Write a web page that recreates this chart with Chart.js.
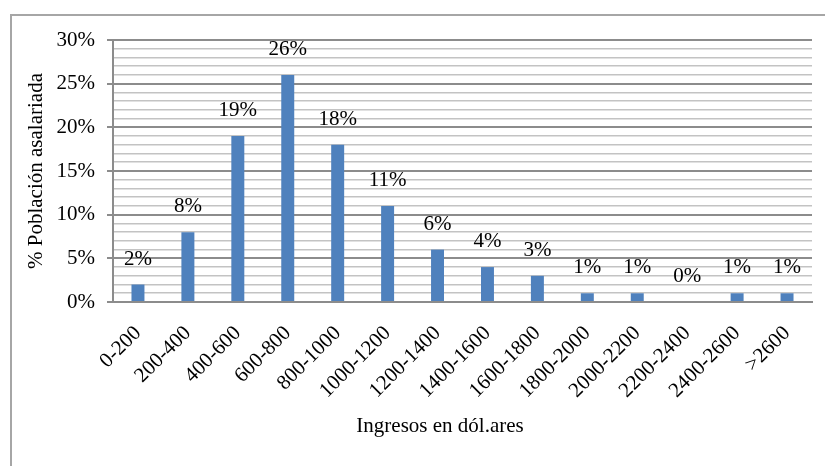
<!DOCTYPE html>
<html>
<head>
<meta charset="utf-8">
<script src="https://cdn.jsdelivr.net/npm/chart.js@4.4.1/dist/chart.umd.min.js"></script>
<style>
  html, body { margin: 0; padding: 0; background: #ffffff; }
  #wrap { position: relative; width: 825px; height: 466px; }
  canvas { display: block; }
</style>
</head>
<body>
<div id="wrap"><canvas id="c" width="825" height="466"></canvas></div>
<script>
// Income brackets (US dollars) and share of salaried population in each
const categories = ['0-200', '200-400', '400-600', '600-800', '800-1000', '1000-1200',
  '1200-1400', '1400-1600', '1600-1800', '1800-2000', '2000-2200', '2200-2400',
  '2400-2600', '>2600'];
const shares = [2, 8, 19, 26, 18, 11, 6, 4, 3, 1, 1, 0, 1, 1];
const yTickValues = [0, 5, 10, 15, 20, 25, 30];
const xTitle = 'Ingresos en dól.ares';
const yTitle = '% Población asalariada';

const SERIF = '"Liberation Serif", "Times New Roman", serif';
const FONT_SIZE = 21;

// Frame, axis titles and value labels drawn on the canvas
const decor = {
  id: 'decor',
  beforeDraw(chart) {
    const ctx = chart.ctx;
    ctx.save();
    ctx.fillStyle = '#ffffff';
    ctx.fillRect(0, 0, chart.width, chart.height);
    ctx.strokeStyle = '#a6a6a6';
    ctx.lineWidth = 2;
    ctx.beginPath();
    ctx.moveTo(11, chart.height + 5);
    ctx.lineTo(11, 15);
    ctx.lineTo(chart.width + 5, 15);
    ctx.stroke();
    ctx.restore();
  },
  afterDraw(chart) {
    const ctx = chart.ctx;
    const area = chart.chartArea;
    ctx.save();
    ctx.fillStyle = '#000000';
    ctx.font = FONT_SIZE + 'px ' + SERIF;
    ctx.textAlign = 'center';
    ctx.textBaseline = 'alphabetic';
    ctx.fillText(xTitle, 440, 432);
    ctx.save();
    ctx.translate(42, (area.top + area.bottom) / 2);
    ctx.rotate(-Math.PI / 2);
    ctx.fillText(yTitle, 0, 0);
    ctx.restore();
    const meta = chart.getDatasetMeta(0);
    meta.data.forEach((bar, i) => {
      ctx.fillText(shares[i] + '%', bar.x, bar.y - 20);
    });
    ctx.restore();
  }
};

new Chart(document.getElementById('c'), {
  type: 'bar',
  data: {
    labels: categories,
    datasets: [{
      data: shares,
      backgroundColor: '#4f81bd',
      borderWidth: 0,
      categoryPercentage: 1,
      barPercentage: 0.26
    }]
  },
  options: {
    responsive: false,
    animation: false,
    layout: { padding: { top: 40, right: 13, left: 0, bottom: 0 } },
    plugins: { legend: { display: false }, tooltip: { enabled: false } },
    scales: {
      x: {
        afterFit(scale) { scale.height = 164; },
        grid: { display: false, drawTicks: false },
        border: { color: '#8c8c8c', width: 2 },
        ticks: {
          color: '#000000',
          font: { family: SERIF, size: FONT_SIZE },
          minRotation: 45,
          maxRotation: 45,
          padding: 19,
          autoSkip: false
        }
      },
      y: {
        min: 0,
        max: 30,
        afterFit(scale) { scale.width = 113; },
        afterBuildTicks(scale) {
          const t = [];
          for (let v = 0; v <= 30; v++) t.push({ value: v });
          scale.ticks = t;
        },
        grid: {
          color: (c) => (yTickValues.includes(c.tick.value) ? '#8c8c8c' : '#c3c3c3'),
          lineWidth: (c) => (yTickValues.includes(c.tick.value) ? 2 : 1.6),
          tickColor: (c) => (yTickValues.includes(c.tick.value) ? '#8c8c8c' : 'rgba(0,0,0,0)'),
          tickLength: 6
        },
        border: { color: '#8c8c8c', width: 2 },
        ticks: {
          color: '#000000',
          font: { family: SERIF, size: FONT_SIZE },
          padding: 12,
          autoSkip: false,
          callback: (v) => (yTickValues.includes(v) ? v + '%' : '')
        }
      }
    }
  },
  plugins: [decor]
});
</script>
</body>
</html>
